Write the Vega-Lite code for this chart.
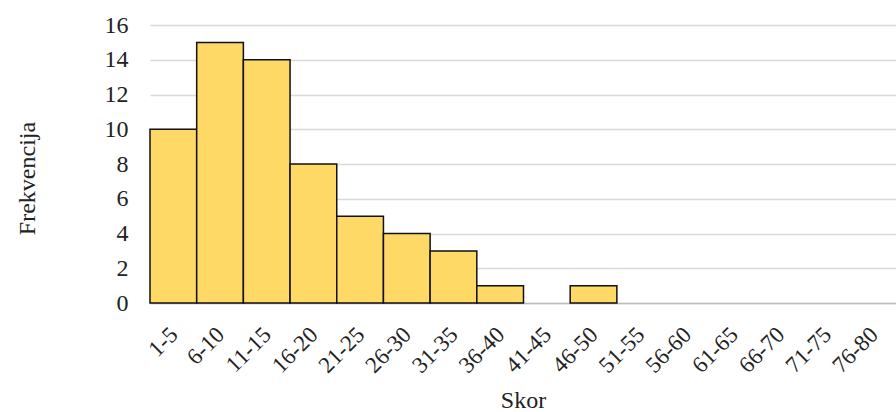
{
  "$schema": "https://vega.github.io/schema/vega-lite/v6.json",
  "autosize": "none",
  "width": 747,
  "height": 278,
  "padding": {"left": 150, "top": 25, "right": 0, "bottom": 109},
  "background": "white",
  "config": {
    "view": {"stroke": null},
    "font": "Liberation Serif",
    "axis": {"labelFont": "Liberation Serif", "titleFont": "Liberation Serif"}
  },
  "data": {
    "values": [
      {"skor": "1-5", "f": 10},
      {"skor": "6-10", "f": 15},
      {"skor": "11-15", "f": 14},
      {"skor": "16-20", "f": 8},
      {"skor": "21-25", "f": 5},
      {"skor": "26-30", "f": 4},
      {"skor": "31-35", "f": 3},
      {"skor": "36-40", "f": 1},
      {"skor": "41-45", "f": 0},
      {"skor": "46-50", "f": 1},
      {"skor": "51-55", "f": 0},
      {"skor": "56-60", "f": 0},
      {"skor": "61-65", "f": 0},
      {"skor": "66-70", "f": 0},
      {"skor": "71-75", "f": 0},
      {"skor": "76-80", "f": 0}
    ]
  },
  "transform": [{"filter": "datum.f > 0"}],
  "mark": {"type": "bar", "color": "#FFD966", "stroke": "#111111", "strokeWidth": 1.5},
  "encoding": {
    "x": {
      "field": "skor",
      "type": "nominal",
      "sort": null,
      "scale": {
        "domain": ["1-5", "6-10", "11-15", "16-20", "21-25", "26-30", "31-35", "36-40", "41-45", "46-50", "51-55", "56-60", "61-65", "66-70", "71-75", "76-80"],
        "paddingInner": 0, "paddingOuter": 0
      },
      "axis": {
        "title": "Skor",
        "titleFontSize": 24,
        "titleFontWeight": "normal",
        "titleColor": "#222222",
        "titleX": 373,
        "titleY": 104,
        "titleBaseline": "alphabetic",
        "labelAngle": -45,
        "labelFontSize": 23,
        "labelColor": "#222222",
        "labelPadding": 20,
        "labelOffset": -7,
        "ticks": false,
        "domainColor": "#BFBFBF",
        "domainWidth": 1.5,
        "grid": false
      }
    },
    "y": {
      "field": "f",
      "type": "quantitative",
      "scale": {"domain": [0, 16]},
      "axis": {
        "title": "Frekvencija",
        "titleFontSize": 24,
        "titleFontWeight": "normal",
        "titleColor": "#222222",
        "titleX": -123,
        "titleY": 153,
        "titleBaseline": "middle",
        "values": [0, 2, 4, 6, 8, 10, 12, 14, 16],
        "labelFontSize": 24,
        "labelColor": "#222222",
        "labelPadding": 22,
        "ticks": false,
        "domain": false,
        "grid": true,
        "gridColor": "#D9D9D9",
        "gridWidth": 1.5
      }
    }
  }
}
